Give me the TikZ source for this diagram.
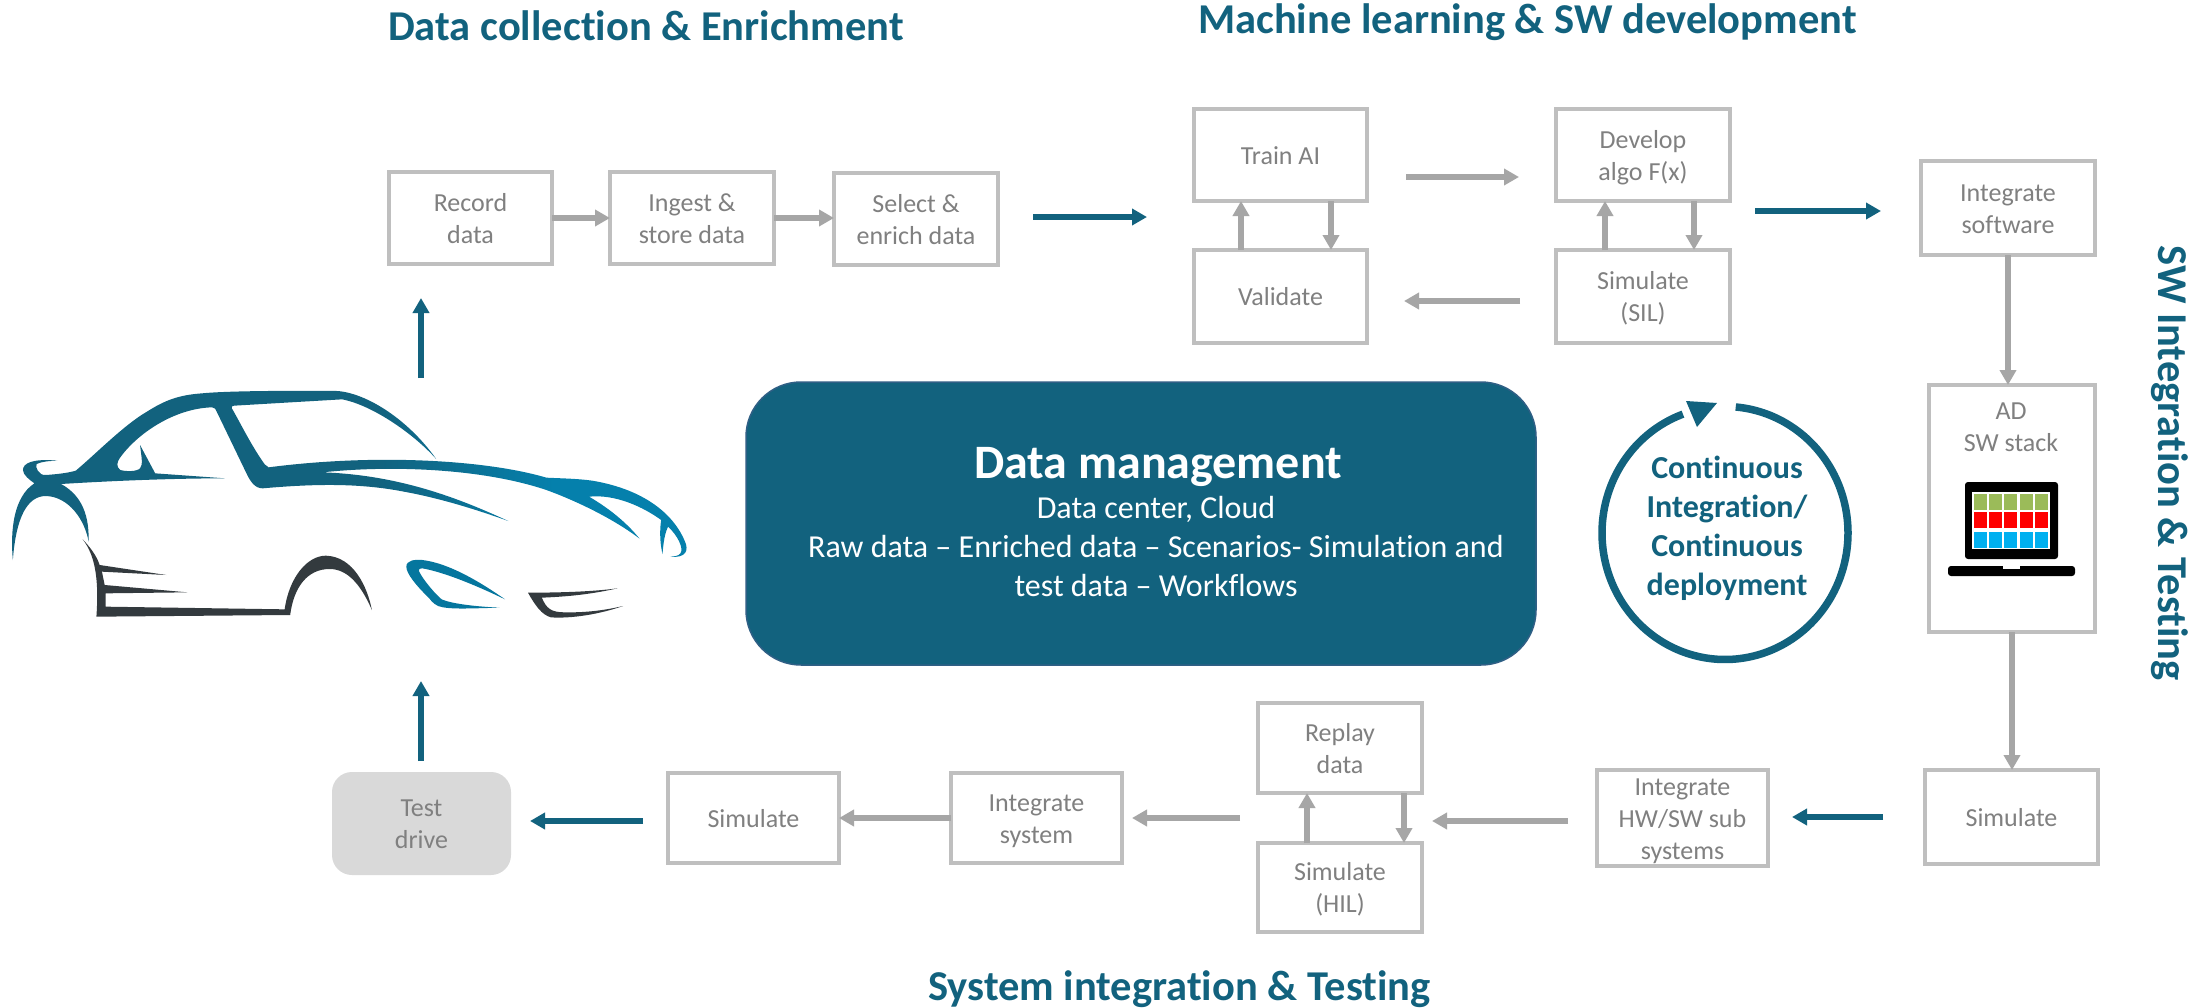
\documentclass[tikz,border=0pt]{standalone}
\usepackage{fontspec}
\setmainfont[Ligatures=NoCommon]{Carlito}
\usetikzlibrary{arrows.meta}
\definecolor{teal1}{HTML}{12627E}
\definecolor{teall}{HTML}{0580AC}
\definecolor{cardark}{HTML}{333A3E}
\definecolor{boxg}{HTML}{BFBFBF}
\definecolor{arrg}{HTML}{A6A6A6}
\definecolor{txtg}{HTML}{808080}
\definecolor{dmedge}{HTML}{2F5F85}
\definecolor{cellg}{HTML}{9BBB59}
\definecolor{cellb}{HTML}{00B0F0}
\pgfdeclarehorizontalshading{carshade}{100bp}{color(0bp)=(teal1); color(52bp)=(teal1); color(65bp)=(teall); color(100bp)=(teall)}
\newcommand{\ls}{\rule[-7pt]{0pt}{32pt}}
\newcommand{\lb}{\rule[-9pt]{0pt}{39pt}}
\tikzset{
  gbox/.style={draw=boxg,line width=4pt,fill=white,rectangle,inner sep=0pt,outer sep=0pt,text=txtg,align=center,font=\fontsize{26}{32}\selectfont},
  garrow/.style={draw=arrg,line width=5.5pt,-{Triangle[length=15pt,width=16pt]}},
  tarrow/.style={draw=teal1,line width=5.5pt,-{Triangle[length=15pt,width=16pt]}},
  title/.style={text=teal1,anchor=base west,inner sep=0pt,font=\fontsize{42.5}{50}\selectfont\bfseries}
}
\newcommand{\bxx}[6]{%
  \pgfmathsetmacro\cxx{(#2+#4)/2}\pgfmathsetmacro\cyy{(#3+#5)/2}%
  \pgfmathsetmacro\wxx{#4-#2-4}\pgfmathsetmacro\hyy{#5-#3-4}%
  \node[gbox,minimum width=\wxx pt,minimum height=\hyy pt] (#1) at (\cxx,\cyy) {\ls #6\ls};%
}
\begin{document}
\begin{tikzpicture}[x=1pt,y=-1pt]
\useasboundingbox (0,0) rectangle (2204,1007);
\fill[white] (0,0) rectangle (2204,1007);

% titles
\node[title] (t1) at (388,40) {Data collection \& Enrichment};
\node[title] (t2) at (1198,33) {Machine learning \& SW development};
\node[title] (t3) at (928,1000) {System integration \& Testing};
\node[title,rotate=-90] (t4) at (2158,245) {SW Integration \& Testing};

% boxes
\bxx{rec}{387}{170}{554}{266}{Record\\data}
\bxx{ing}{608}{170}{776}{266}{Ingest \&\\store data}
\bxx{sel}{832}{171}{1000}{267}{Select \&\\enrich data}
\bxx{train}{1192}{107}{1369}{203}{Train AI}
\bxx{val}{1192}{248}{1369}{345}{Validate}
\bxx{dev}{1554}{107}{1732}{203}{Develop\\algo F(x)}
\bxx{sil}{1554}{248}{1732}{345}{Simulate\\(SIL)}
\bxx{intsw}{1919}{159}{2097}{257}{Integrate\\software}
\bxx{ad}{1927}{383}{2097}{634}{}
\bxx{simr}{1923}{768}{2100}{866}{Simulate}
\bxx{hw}{1595}{771}{1770}{865}{Integrate\\HW/SW sub\\systems}
\bxx{rep}{1256}{701}{1424}{795}{Replay\\data}
\bxx{hil}{1256}{841}{1424}{934}{Simulate\\(HIL)}
\bxx{intsys}{949}{771}{1124}{865}{Integrate\\system}
\bxx{siml}{666}{771}{841}{865}{Simulate}
\node[gbox,draw=none,fill=black!15,rounded corners=20pt,minimum width=179pt,minimum height=103pt] (td) at (421.5,823.5) {\ls Test\\drive\ls};

\node[text=txtg,align=center,inner sep=0pt,font=\fontsize{26}{32}\selectfont] (adt) at (2011,426) {\ls AD\\SW stack\ls};

% laptop
\fill[black,rounded corners=3pt] (1965,482) rectangle (2058,559);
\fill[white] (1972,492) rectangle (2050,549);
\foreach \xa in {1974,1989,2004,2020,2035}{
  \fill[cellg] (\xa,494) rectangle ++(13,15.5);
  \fill[red] (\xa,512) rectangle ++(13,16);
  \fill[cellb] (\xa,532) rectangle ++(13,16);
}
\fill[black,rounded corners=3pt] (1948,566) -- (2075,566) -- (2075,576) -- (1948,576) -- cycle;
\fill[white] (2003,565) rectangle (2020,569);

% centre box
\node[draw=dmedge,line width=1.5pt,fill=teal1,rounded corners=55pt,minimum width=790pt,minimum height=283pt,inner sep=0pt,outer sep=0pt] (dm) at (1141,523.5) {};
\node[text=white,anchor=base,inner sep=0pt,font=\fontsize{48}{56}\selectfont\bfseries] (dmt) at (1158,478) {Data management};
\node[text=white,align=center,inner sep=0pt,font=\fontsize{32}{39}\selectfont] (dmb) at (1156,546.5) {\lb Data center, Cloud\\Raw data – Enriched data – Scenarios- Simulation and\\test data – Workflows\lb};

% cycle
\draw[teal1,line width=7.5pt,line cap=butt] plot[domain=85:-250,samples=140,smooth] ({1725+123*cos(\x)},{533-126.5*sin(\x)});
\fill[teal1] (1686,401) -- (1717,403) -- (1697,427) -- cycle;
\node[text=teal1,align=center,inner sep=0pt,font=\fontsize{32}{39}\selectfont\bfseries] (ci) at (1727,526) {\lb Continuous\\Integration/\\Continuous\\deployment\lb};

% connectors
\draw[garrow] (rec.east) -- (ing.west);
\draw[garrow] (ing.east) -- (ing.east -| sel.west);
\coordinate (a1) at (1033,217); \coordinate (a2) at (1147,217);
\draw[tarrow] (a1) -- (a2);
\coordinate (u1) at (421,378); \coordinate (u2) at (421,298);
\draw[tarrow] (u1) -- (u2);
\coordinate (d1) at (421,761); \coordinate (d2) at (421,681);
\draw[tarrow] (d1) -- (d2);

\draw[garrow] ([xshift=-39.5pt]val.north) -- ([xshift=-39.5pt]train.south);
\draw[garrow] ([xshift=50.5pt]train.south) -- ([xshift=50.5pt]val.north);
\draw[garrow] ([xshift=-38pt]sil.north) -- ([xshift=-38pt]dev.south);
\draw[garrow] ([xshift=51pt]dev.south) -- ([xshift=51pt]sil.north);
\coordinate (b1) at (1406,177); \coordinate (b2) at (1519,177);
\draw[garrow] (b1) -- (b2);
\coordinate (c1) at (1520,301); \coordinate (c2) at (1404,301);
\draw[garrow] (c1) -- (c2);
\coordinate (e1) at (1755,211); \coordinate (e2) at (1881,211);
\draw[tarrow] (e1) -- (e2);
\draw[garrow] (intsw.south) -- (intsw.south |- ad.north);
\draw[garrow] (ad.south) -- (ad.south |- simr.north);
\coordinate (f1) at (1883,817); \coordinate (f2) at (1792,817);
\draw[tarrow] (f1) -- (f2);
\coordinate (g1) at (1568,821); \coordinate (g2) at (1432,821);
\draw[garrow] (g1) -- (g2);
\draw[garrow] ([xshift=-33pt]hil.north) -- ([xshift=-33pt]rep.south);
\draw[garrow] ([xshift=64pt]rep.south) -- ([xshift=64pt]hil.north);
\coordinate (h1) at (1240,818); \coordinate (h2) at (1132,818);
\draw[garrow] (h1) -- (h2);
\draw[garrow] (intsys.west) -- (siml.east);
\coordinate (i1) at (643,821); \coordinate (i2) at (530,821);
\draw[tarrow] (i1) -- (i2);

% car
\begin{scope}[x=0.45914pt,y=-0.33333pt,shift={(0pt,-350pt)}]
\path[shading=carshade]
 (125,332) .. controls (70,325) and (50,340) .. (50,360)
 .. controls (50,375) and (65,390) .. (75,400)
 .. controls (30,440) and (22,540) .. (28,630)
 .. controls (35,500) and (60,438) .. (100,438)
 .. controls (150,440) and (185,510) .. (193,575)
 .. controls (195,480) and (170,430) .. (133,402)
 .. controls (250,392) and (380,385) .. (490,385)
 -- (338,370)
 -- (305,285)
 .. controls (308,320) and (312,345) .. (305,355)
 .. controls (298,365) and (275,365) .. (262,360)
 .. controls (252,350) and (255,335) .. (262,322)
 .. controls (300,250) and (380,175) .. (462,172)
 .. controls (468,172) and (470,178) .. (472,185)
 -- (535,365)
 .. controls (545,395) and (555,415) .. (572,415)
 .. controls (680,402) and (780,398) .. (880,425)
 .. controls (960,445) and (1040,480) .. (1107,513)
 .. controls (1000,445) and (870,375) .. (703,367)
 .. controls (850,345) and (1050,355) .. (1190,420)
 .. controls (1260,455) and (1340,510) .. (1393,566)
 .. controls (1360,510) and (1320,470) .. (1283,440)
 .. controls (1340,432) and (1400,470) .. (1440,510)
 .. controls (1436,545) and (1438,585) .. (1443,612)
 .. controls (1445,575) and (1448,550) .. (1455,530)
 .. controls (1475,555) and (1490,595) .. (1482,610)
 .. controls (1478,618) and (1470,619) .. (1460,620)
 .. controls (1495,625) and (1500,600) .. (1492,575)
 .. controls (1470,500) and (1410,420) .. (1290,392)
 .. controls (1260,386) and (1220,385) .. (1190,383)
 .. controls (1060,330) and (820,310) .. (585,352)
 .. controls (578,348) and (575,340) .. (570,330)
 .. controls (545,280) and (520,210) .. (505,175)
 .. controls (503,170) and (505,168) .. (510,167)
 -- (745,148)
 .. controls (810,165) and (900,250) .. (950,327)
 .. controls (890,210) and (800,130) .. (735,123)
 .. controls (640,122) and (500,122) .. (440,130)
 .. controls (390,135) and (360,150) .. (320,185)
 .. controls (270,225) and (210,310) .. (165,362)
 .. controls (145,370) and (120,373) .. (100,375)
 .. controls (85,378) and (75,350) .. (80,342)
 .. controls (90,335) and (105,333) .. (125,332)
 -- cycle;
\fill[cardark]
 (180,568) .. controls (195,590) and (210,615) .. (217,645)
 -- (362,675) -- (222,665) -- (228,705) -- (408,727) -- (230,730) -- (230,770) -- (620,778)
 .. controls (630,680) and (670,617) .. (710,617)
 .. controls (770,620) and (800,710) .. (810,780)
 .. controls (785,700) and (755,657) .. (718,657)
 .. controls (670,657) and (640,710) .. (632,795)
 -- (210,800)
 .. controls (215,700) and (210,620) .. (180,568) -- cycle;
\fill[teall!92!black]
 (885,650) .. controls (885,630) and (905,628) .. (920,630)
 .. controls (980,640) and (1050,700) .. (1100,748)
 .. controls (1020,695) and (960,665) .. (920,655)
 .. controls (912,655) and (910,660) .. (915,670)
 .. controls (925,695) and (950,735) .. (962,748)
 .. controls (985,762) and (1040,770) .. (1088,773)
 .. controls (1030,775) and (990,778) .. (965,772)
 .. controls (950,770) and (940,755) .. (935,745)
 .. controls (905,705) and (885,670) .. (885,650) -- cycle;
\fill[cardark]
 (1150,728) .. controls (1220,728) and (1290,725) .. (1345,715)
 .. controls (1280,735) and (1230,740) .. (1180,743)
 .. controls (1190,775) and (1200,787) .. (1230,787)
 .. controls (1280,788) and (1320,780) .. (1357,768)
 .. controls (1290,800) and (1230,805) .. (1200,802)
 .. controls (1180,795) and (1165,765) .. (1150,728) -- cycle;
\end{scope}
\end{tikzpicture}
\end{document}
